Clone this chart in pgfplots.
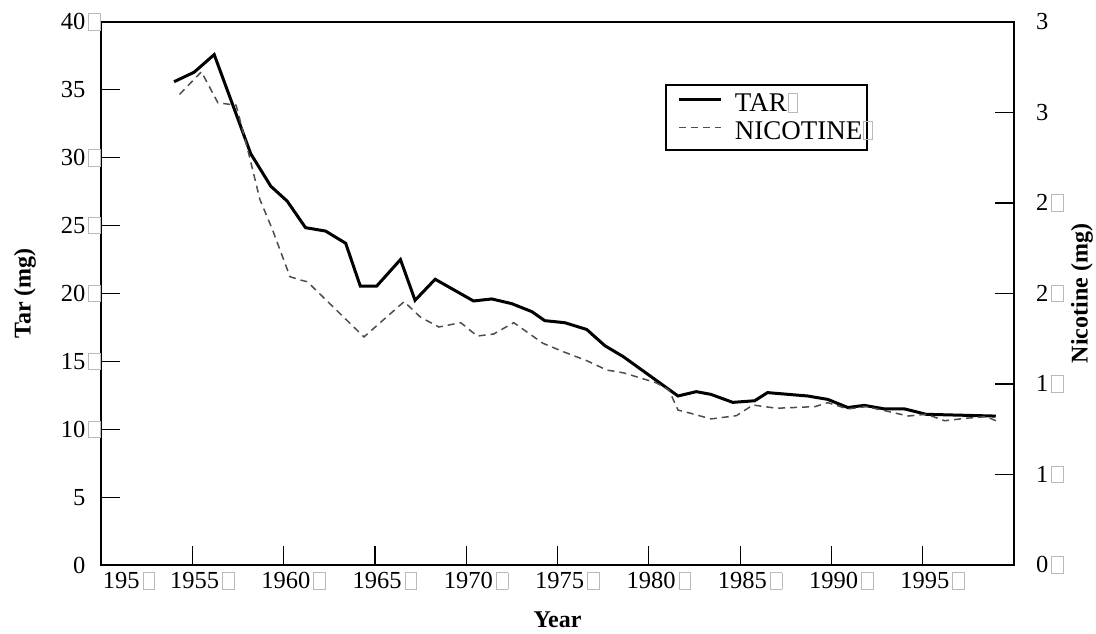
\documentclass[border=0pt]{standalone}
\usepackage{pgfplots}
\pgfplotsset{compat=1.18}
\usepackage{fontspec}
\setmainfont{Liberation Serif}
\newcommand\bx{\hspace{1.5pt}\textcolor{gray!55}{\setlength\fboxsep{0pt}\setlength\fboxrule{0.45pt}\fbox{\rule{0pt}{0.64em}\rule{0.44em}{0pt}}}}
\newcommand\nbx{\hphantom{\bx}}
\newcommand\lbx{\rlap{\hspace{0.5pt}\textcolor{gray!55}{\setlength\fboxsep{0pt}\setlength\fboxrule{0.45pt}\fbox{\rule{0pt}{0.66em}\rule{0.3em}{0pt}}}}}
\definecolor{nicgray}{HTML}{4D4D4D}
\begin{document}
\begin{tikzpicture}
\pgfplotsset{
  common/.style={
    at={(0,0)}, anchor=south west, scale only axis,
    width=456.5pt, height=271.5pt,
    xmin=1950, xmax=2000,
    tick align=inside, major tick length=9.5pt,
    every tick/.style={black, line width=0.6pt},
    axis line style={line width=1pt},
    tick label style={font=\fontsize{12.25}{14}\selectfont},
    label style={font=\fontsize{12}{14}\selectfont\bfseries},
  }
}
\begin{axis}[common,
  ymin=0, ymax=40,
  xtick={1950,1955,...,1995},
  xticklabels={\hspace*{18pt}195\bx,1955\bx,1960\bx,1965\bx,1970\bx,1975\bx,1980\bx,1985\bx,1990\bx,1995\bx},
  ytick={0,5,...,40},
  yticklabels={0\nbx,5\nbx,10\bx,15\bx,20\bx,25\bx,30\bx,35\nbx,40\bx},
  xtick pos=bottom, ytick pos=left,
  x tick label style={xshift=5pt},
  y tick label style={xshift=3.5pt},
  xlabel={Year}, ylabel={Tar (mg)},
  xlabel style={at={(axis description cs:0.5,-0.1013)}, anchor=center},
  ylabel style={at={(axis description cs:-0.0832,0.5)}, anchor=center},
  legend style={at={(rel axis cs:0.6177,0.8858)}, anchor=north west,
    draw=black, line width=1pt, font=\fontsize{13.5}{15}\selectfont,
    cells={anchor=west}, inner xsep=0.5pt, inner ysep=2pt, row sep=-1pt,
    nodes={inner xsep=2pt}},
  legend image code/.code={\draw plot coordinates {(0pt,2pt) (21pt,2pt)}; \path (-5.5pt,2pt) (25pt,2pt);},
]
\addplot[black, line width=1.5pt, line join=miter] coordinates {
(1954.0,35.6) (1955.1,36.3) (1956.2,37.6) (1958.2,30.3) (1959.3,27.9)
(1960.2,26.8) (1961.2,24.85) (1962.3,24.6) (1963.4,23.7) (1964.2,20.55)
(1965.1,20.55) (1966.4,22.5) (1967.2,19.5) (1968.3,21.05) (1970.4,19.45)
(1971.4,19.6) (1972.5,19.25) (1973.6,18.66) (1974.3,18.0) (1975.4,17.85)
(1976.6,17.35) (1977.6,16.15) (1978.6,15.35) (1981.6,12.45) (1982.6,12.77)
(1983.4,12.57) (1984.6,11.98) (1985.8,12.1) (1986.5,12.7) (1988.7,12.45)
(1989.8,12.2) (1990.9,11.6) (1991.8,11.76) (1992.9,11.5) (1994.0,11.5)
(1995.2,11.1) (1999.0,10.97)
};
\addlegendentry{TAR\lbx}
\addlegendimage{nicgray, line width=0.75pt, dash pattern=on 3.5pt off 2.5pt}
\addlegendentry{NICOTINE\lbx}
\end{axis}
\begin{axis}[common,
  ymin=0, ymax=3,
  axis y line*=right, axis x line=none,
  ytick={0,0.5,1,1.5,2,2.5,3},
  yticklabels={0\bx,1\bx,1\bx,2\bx,2\bx,3,3},
  y tick label style={xshift=7.5pt},
  ylabel={Nicotine (mg)},
  ylabel style={at={(axis description cs:1.0745,0.5)}, anchor=center},
]
\addplot[nicgray, line width=0.75pt, dash pattern=on 3.5pt off 2.5pt] coordinates {
(1954.3,2.60) (1955.5,2.725) (1956.4,2.554) (1957.4,2.54) (1958.0,2.31)
(1958.7,2.02) (1959.4,1.85) (1960.35,1.593) (1960.9,1.575) (1961.3,1.565)
(1964.4,1.26) (1966.6,1.455) (1967.5,1.369) (1968.5,1.315) (1969.7,1.339)
(1970.6,1.265) (1971.5,1.276)
(1972.6,1.339) (1974.2,1.225) (1975.3,1.179) (1976.6,1.129) (1977.7,1.077)
(1978.6,1.062) (1980.4,1.007) (1981.1,0.967) (1981.6,0.856) (1982.3,0.838)
(1983.4,0.807) (1984.8,0.825) (1985.7,0.884) (1987.0,0.866) (1989.1,0.875)
(1989.8,0.897) (1990.9,0.862) (1991.9,0.875) (1993.0,0.851) (1994.2,0.823)
(1995.2,0.833) (1996.2,0.797) (1997.4,0.811) (1998.5,0.82) (1999.0,0.797)
};
\end{axis}
\pgfresetboundingbox
\path[use as bounding box] (-50.5pt,-34pt) rectangle (497.5pt,282.5pt);
\end{tikzpicture}
\end{document}
